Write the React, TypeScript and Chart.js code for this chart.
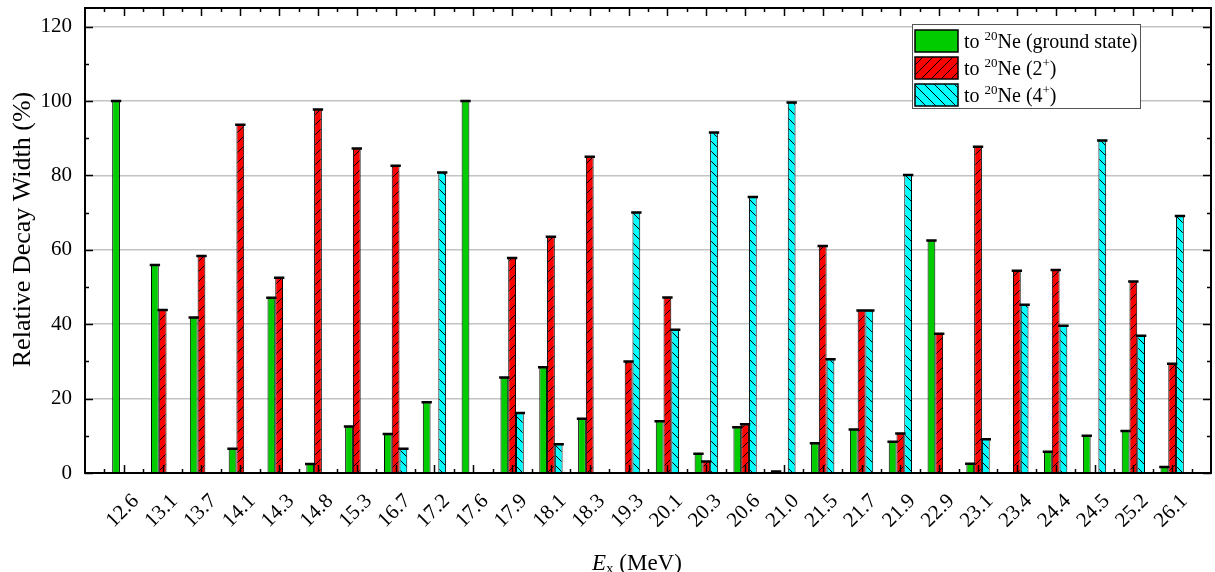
import React, { useEffect, useRef } from 'react';
import { Chart, registerables } from 'chart.js';

Chart.register(...registerables);

const categories = ['12.6', '13.1', '13.7', '14.1', '14.3', '14.8', '15.3', '16.7', '17.2', '17.6', '17.9', '18.1', '18.3', '19.3', '20.1', '20.3', '20.6', '21.0', '21.5', '21.7', '21.9', '22.9', '23.1', '23.4', '24.4', '24.5', '25.2', '26.1'];

const groundState = [100, 55.9, 41.8, 6.5, 47.1, 2.4, 12.5, 10.5, 19.0, 100, 25.7, 28.4, 14.6, null, 13.9, 5.2, 12.3, 0.4, 8.0, 11.7, 8.4, 62.5, 2.5, null, 5.7, 10.0, 11.3, 1.6];
const twoPlus = [null, 43.8, 58.3, 93.6, 52.5, 97.7, 87.2, 82.6, null, null, 57.8, 63.5, 85.0, 30.0, 47.2, 3.1, 13.1, null, 61.0, 43.7, 10.6, 37.4, 87.7, 54.4, 54.6, null, 51.5, 29.4];
const fourPlus = [null, null, null, null, null, null, null, 6.5, 80.8, null, 16.1, 7.7, null, 70.0, 38.5, 91.5, 74.2, 99.6, 30.6, 43.7, 80.1, null, 9.1, 45.2, 39.6, 89.4, 36.9, 69.1];

const yMajorTicks = [0, 20, 40, 60, 80, 100, 120];
const yMinorTicks = [10, 30, 50, 70, 90, 110];

// legend text parts: [normal, superscript, normal, superscript, normal]
const legendParts = [
  ['to ', '20', 'Ne (ground state)', '', ''],
  ['to ', '20', 'Ne (2', '+', ')'],
  ['to ', '20', 'Ne (4', '+', ')'],
];
const seriesNames = ['to 20Ne (ground state)', 'to 20Ne (2+)', 'to 20Ne (4+)'];

const FONT = "'Liberation Serif', 'Times New Roman', serif";
const GREEN = '#00cc00';
const RED = '#ff0000';
const CYAN = '#00ffff';

function makeHatch(ctx: CanvasRenderingContext2D, bg: string, dir: string) {
  const s = 10;
  const c = document.createElement('canvas');
  c.width = s;
  c.height = s;
  const g = c.getContext('2d') as CanvasRenderingContext2D;
  g.fillStyle = bg;
  g.fillRect(0, 0, s, s);
  g.strokeStyle = '#000';
  g.lineWidth = 1;
  g.beginPath();
  if (dir === '/') {
    g.moveTo(-1, s + 1); g.lineTo(s + 1, -1);
    g.moveTo(-1, 1); g.lineTo(1, -1);
    g.moveTo(s - 1, s + 1); g.lineTo(s + 1, s - 1);
  } else {
    g.moveTo(-1, -1); g.lineTo(s + 1, s + 1);
    g.moveTo(s - 1, -1); g.lineTo(s + 1, 1);
    g.moveTo(-1, s - 1); g.lineTo(1, s + 1);
  }
  g.stroke();
  return ctx.createPattern(c, 'repeat') as CanvasPattern;
}

export default function App() {
  const canvasRef = useRef<HTMLCanvasElement | null>(null);

  useEffect(() => {
    const canvas = canvasRef.current;
    if (!canvas) return;
    const mainCtx = canvas.getContext('2d') as CanvasRenderingContext2D;
    const redHatch = makeHatch(mainCtx, RED, '/');
    const cyanHatch = makeHatch(mainCtx, CYAN, '\\');
    const fills = [GREEN, redHatch, cyanHatch];

    const decorPlugin = {
      id: 'decor',
      afterDatasetsDraw(chart: any) {
        const { ctx, chartArea: a, scales } = chart;
        const x = scales.x;
        const y = scales.y;
        ctx.save();
        // error caps
        ctx.strokeStyle = '#000';
        ctx.lineWidth = 2.5;
        ctx.beginPath();
        chart.data.datasets.forEach((ds: any, di: number) => {
          const meta = chart.getDatasetMeta(di);
          meta.data.forEach((el: any, i: number) => {
            const v = ds.data[i];
            if (v == null || v.y == null) return;
            const hw = el.width / 2 + 1.3;
            ctx.moveTo(el.x - hw, el.y);
            ctx.lineTo(el.x + hw, el.y);
          });
        });
        ctx.stroke();

        // ticks (inward)
        ctx.lineWidth = 1.5;
        ctx.beginPath();
        categories.forEach((_, i) => {
          const px = Math.round(x.getPixelForValue(i)) + 0.5;
          ctx.moveTo(px, a.bottom); ctx.lineTo(px, a.bottom - 8);
          ctx.moveTo(px, a.top); ctx.lineTo(px, a.top + 8);
        });
        for (let i = 0; i <= categories.length; i++) {
          const px = Math.round(x.getPixelForValue(i - 0.5)) + 0.5;
          ctx.moveTo(px, a.bottom); ctx.lineTo(px, a.bottom - 4);
          ctx.moveTo(px, a.top); ctx.lineTo(px, a.top + 4);
        }
        yMajorTicks.forEach((v) => {
          const py = Math.round(y.getPixelForValue(v)) + 0.5;
          ctx.moveTo(a.left, py); ctx.lineTo(a.left + 8, py);
          ctx.moveTo(a.right, py); ctx.lineTo(a.right - 8, py);
        });
        yMinorTicks.forEach((v) => {
          const py = Math.round(y.getPixelForValue(v)) + 0.5;
          ctx.moveTo(a.left, py); ctx.lineTo(a.left + 4, py);
          ctx.moveTo(a.right, py); ctx.lineTo(a.right - 4, py);
        });
        ctx.stroke();

        // frame
        ctx.lineWidth = 2;
        ctx.strokeRect(a.left, a.top, a.right - a.left, a.bottom - a.top);

        // x tick labels, rotated and centred on the tick
        ctx.fillStyle = '#000';
        ctx.font = `21px ${FONT}`;
        ctx.textAlign = 'center';
        ctx.textBaseline = 'middle';
        categories.forEach((lab, i) => {
          const px = x.getPixelForValue(i);
          ctx.save();
          ctx.translate(px - 1, a.bottom + 38);
          ctx.rotate(-Math.PI / 4);
          ctx.fillText(lab, 0, 0);
          ctx.restore();
        });

        // y title
        ctx.save();
        ctx.font = `26px ${FONT}`;
        ctx.textAlign = 'center';
        ctx.textBaseline = 'alphabetic';
        ctx.translate(30, (a.top + a.bottom) / 2 - 11);
        ctx.rotate(-Math.PI / 2);
        ctx.fillText('Relative Decay Width (%)', 0, 0);
        ctx.restore();

        // x title: E_x (MeV)
        ctx.textAlign = 'left';
        ctx.textBaseline = 'alphabetic';
        let tx = (a.left + a.right) / 2 - 56;
        const ty = a.bottom + 97;
        ctx.font = `italic 23px ${FONT}`;
        ctx.fillText('E', tx, ty);
        tx += ctx.measureText('E').width;
        ctx.font = `15px ${FONT}`;
        ctx.fillText('x', tx, ty + 3);
        tx += ctx.measureText('x').width;
        ctx.font = `23px ${FONT}`;
        ctx.fillText(' (MeV)', tx, ty);

        // legend
        const bw = 228;
        const bh = 84;
        const bx = a.right - 71 - bw;
        const by = a.top + 16;
        ctx.fillStyle = '#fff';
        ctx.fillRect(bx, by, bw, bh);
        ctx.strokeStyle = '#555';
        ctx.lineWidth = 1;
        ctx.strokeRect(bx + 0.5, by + 0.5, bw, bh);
        legendParts.forEach((parts, i) => {
          const sy = by + 6 + i * 27;
          ctx.fillStyle = fills[i] as any;
          ctx.fillRect(bx + 3, sy, 43, 22);
          ctx.strokeStyle = '#000';
          ctx.lineWidth = 1.5;
          ctx.strokeRect(bx + 3, sy, 43, 22);
          ctx.fillStyle = '#000';
          let lx = bx + 52;
          const base = sy + 18;
          parts.forEach((p, pi) => {
            if (!p) return;
            const sup = pi % 2 === 1;
            ctx.font = sup ? `13px ${FONT}` : `20px ${FONT}`;
            ctx.fillText(p, lx, sup ? base - 8 : base);
            lx += ctx.measureText(p).width;
          });
        });
        ctx.restore();
      },
    };

    const mk = (arr: (number | null)[]) => arr.map((v, i) => ({ x: i, y: v }));

    const chart = new Chart(canvas, {
      type: 'bar',
      data: {
        datasets: [
          { label: seriesNames[0], data: mk(groundState) as any, backgroundColor: GREEN, borderColor: '#000', borderWidth: 1 },
          { label: seriesNames[1], data: mk(twoPlus) as any, backgroundColor: redHatch as any, borderColor: '#000', borderWidth: 1 },
          { label: seriesNames[2], data: mk(fourPlus) as any, backgroundColor: cyanHatch as any, borderColor: '#000', borderWidth: 1 },
        ],
      },
      options: {
        animation: false,
        responsive: true,
        maintainAspectRatio: false,
        devicePixelRatio: 1,
        layout: { padding: { left: 0, top: 8, right: 4, bottom: 0 } },
        datasets: { bar: { categoryPercentage: 0.6, barPercentage: 1.0 } },
        plugins: { legend: { display: false }, tooltip: { enabled: false }, title: { display: false } },
        scales: {
          x: {
            type: 'linear',
            offset: false,
            min: -1,
            max: categories.length,
            grid: { display: false, offset: false },
            border: { display: false },
            ticks: { display: false },
            afterFit: (s: any) => { s.height = 99; s.paddingLeft = 0; s.paddingRight = 0; },
          },
          y: {
            type: 'linear',
            min: 0,
            max: 125,
            afterBuildTicks: (s: any) => { s.ticks = yMajorTicks.map((v) => ({ value: v })); },
            afterFit: (s: any) => { s.width = 85; s.paddingTop = 0; s.paddingBottom = 0; },
            border: { display: false },
            grid: {
              drawTicks: false,
              lineWidth: 1.5,
              color: (c: any) => (c.tick && c.tick.value === 0 ? 'rgba(0,0,0,0)' : '#c4c4c4'),
            },
            ticks: {
              padding: 13,
              color: '#000',
              font: { family: FONT, size: 21 },
            },
          },
        },
      } as any,
      plugins: [decorPlugin],
    });

    return () => chart.destroy();
  }, []);

  return (
    <div style={{ position: 'absolute', left: 0, top: 0, width: 1215, height: 572, background: '#fff' }}>
      <canvas ref={canvasRef} />
    </div>
  );
}
